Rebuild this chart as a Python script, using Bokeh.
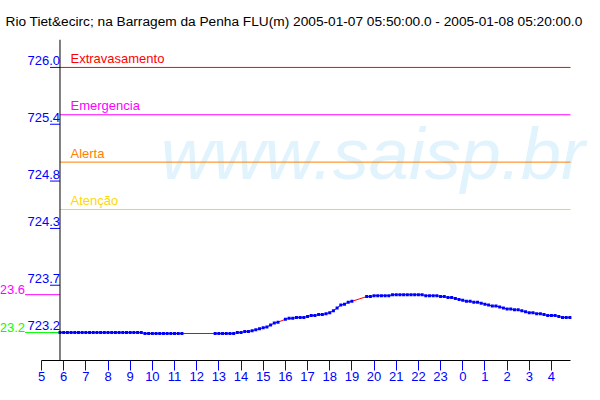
from bokeh.plotting import figure
from bokeh.models import FixedTicker, Span, Label
from bokeh.core.properties import value
from bokeh.embed import file_html
from bokeh.resources import INLINE

# ---------------- data ----------------
title_text = "Rio Tiet&ecirc; na Barragem da Penha FLU(m) 2005-01-07 05:50:00.0 - 2005-01-08 05:20:00.0"

start_hour = 5 + 50 / 60      # 2005-01-07 05:50
step_hours = 10 / 60          # one reading every 10 minutes

# water level (m); None = missing reading
nivel = [
    723.20, 723.20, 723.20, 723.20, 723.20, 723.20, 723.20, 723.20, 723.20, 723.20,
    723.20, 723.20, 723.20, 723.20, 723.20, 723.20, 723.20, 723.20, 723.20, 723.20,
    723.20, 723.20, 723.20, 723.19, 723.19, 723.19, 723.19, 723.19, 723.19, 723.19,
    723.19, 723.19, 723.19, 723.19, None, None, None, None, None, None,
    None, None, 723.19, 723.19, 723.19, 723.19, 723.19, 723.19, 723.20, 723.20,
    723.21, 723.21, 723.22, 723.23, 723.24, 723.25, 723.26, 723.28, 723.30, 723.31,
    None, 723.34, 723.35, 723.35, 723.36, 723.36, 723.36, 723.37, 723.38, 723.38,
    723.39, 723.39, 723.40, 723.41, 723.43, 723.46, 723.49, 723.50, 723.52, 723.53,
    None, None, None, 723.58, 723.58, 723.59, 723.59, 723.59, 723.59, 723.59,
    723.60, 723.60, 723.60, 723.60, 723.60, 723.60, 723.60, 723.60, 723.60, 723.59,
    723.59, 723.59, 723.59, 723.58, 723.58, 723.57, 723.57, 723.56, 723.55, 723.54,
    723.53, 723.53, 723.52, 723.52, 723.51, 723.50, 723.49, 723.48, 723.48, 723.47,
    723.46, 723.45, 723.45, 723.44, 723.44, 723.43, 723.42, 723.41, 723.41, 723.40,
    723.40, 723.39, 723.38, 723.38, 723.38, 723.37, 723.36, 723.36, 723.36,
]

threshold_names = ["Extravasamento", "Emergencia", "Alerta", "Atenção"]
threshold_values = [726.0, 725.5, 725.0, 724.5]
threshold_colors = ["#ff0000", "#ff00ff", "#ff8000", "#ffd800"]

y_tick_values = [726.0, 725.4, 724.8, 724.3, 723.7, 723.2]
y_tick_labels = ["726.0", "725.4", "724.8", "724.3", "723.7", "723.2"]

x_tick_hours = list(range(5, 29))
x_tick_labels = [str(h % 24) for h in x_tick_hours]

ref_values = [723.6, 723.2]          # max / min markers
ref_labels = ["23.6", "23.2"]
ref_colors = ["#ff00ff", "#00ff00"]

# ---------------- geometry ----------------
W, H = 600, 400
BL, BR, BT, BB = 0, 0, 38, 40
pxh = 22.17                             # pixels per hour
x0r = 3.15
x_end = 28.86                           # right end of the chart area
x1r = x0r + (W - BL - BR) / pxh
y0r, y1r = 722.905, 726.295

FONT = value("Liberation Sans")
BLUE = "#0000ff"

hours = [start_hour + i * step_hours for i in range(len(nivel))]
levels = [float("nan") if v is None else v for v in nivel]
t0 = hours[0]

p = figure(width=W, height=H, x_range=(x0r, x1r), y_range=(y0r, y1r),
           output_backend="svg", toolbar_location=None, y_axis_location=None,
           min_border_left=BL, min_border_right=BR, min_border_top=BT,
           min_border_bottom=BB, outline_line_color=None,
           background_fill_color="white", border_fill_color="white")
p.grid.visible = False

# title
p.title.text = title_text
p.title.text_font = "Liberation Sans"
p.title.text_font_size = "13.7px"
p.title.text_font_style = "normal"
p.title.text_color = "black"
p.title.align = "left"
p.title.offset = 5
p.title.standoff = 22

# watermark
p.add_layout(Label(x=10.38, y=725.085, text="www.saisp.br",
                   text_font="Liberation Sans", text_font_style="italic",
                   text_font_size="72px", text_color="#e1f3fc",
                   text_align="left", text_baseline="middle", level="underlay"))

# y axis line
p.add_layout(Span(location=t0, dimension="height", line_color="black", line_width=1))

# y ticks & labels
n = len(y_tick_values)
p.segment(x0=[t0 - 10 / pxh] * n, x1=[t0] * n, y0=y_tick_values, y1=y_tick_values,
          line_color=BLUE, line_width=1)
p.text(x=[t0] * n, y=y_tick_values, text=y_tick_labels, text_align="right",
       text_baseline="middle", y_offset=-7, text_font=FONT,
       text_font_size="13px", text_color=BLUE)

# threshold lines
m = len(threshold_values)
p.segment(x0=[t0] * m, x1=[x_end] * m, y0=threshold_values, y1=threshold_values,
          line_color=threshold_colors, line_width=1)
p.text(x=[t0] * m, y=threshold_values, text=threshold_names, x_offset=10.5,
       y_offset=-9, text_align="left", text_baseline="middle",
       text_font=FONT, text_font_size="13px", text_color=threshold_colors)

# max / min reference marks left of axis
k = len(ref_values)
p.segment(x0=[t0 - 35 / pxh] * k, x1=[t0] * k, y0=ref_values, y1=ref_values,
          line_color=ref_colors, line_width=1)
p.text(x=[t0] * k, y=ref_values, text=ref_labels, x_offset=-35, y_offset=-5,
       text_align="right", text_baseline="middle", text_font=FONT,
       text_font_size="13px", text_color=ref_colors)

# gaps (missing readings) drawn in red between valid neighbours
gx0, gx1, gy0, gy1 = [], [], [], []
i = 0
N = len(nivel)
while i < N:
    if nivel[i] is None:
        j = i
        while j < N and nivel[j] is None:
            j += 1
        if i > 0 and j < N:
            gx0.append(hours[i - 1]); gy0.append(nivel[i - 1])
            gx1.append(hours[j]); gy1.append(nivel[j])
        i = j
    else:
        i += 1
p.segment(x0=gx0, x1=gx1, y0=gy0, y1=gy1, line_color="#ff0000", line_width=1)

# data
p.line(hours, levels, line_color=BLUE, line_width=1)
p.scatter(hours, levels, marker="square", size=3, fill_color=BLUE, line_color=None)

# x axis
ax = p.xaxis[0]
ax.ticker = FixedTicker(ticks=x_tick_hours)
ax.major_label_overrides = {h: lab for h, lab in zip(x_tick_hours, x_tick_labels)}
ax.major_tick_out = 10
ax.major_tick_in = 0
ax.minor_tick_line_color = None
ax.major_tick_line_color = BLUE
ax.axis_line_color = "black"
ax.bounds = (x_tick_hours[0], x_end)
ax.major_label_text_font = "Liberation Sans"
ax.major_label_text_font_size = "13px"
ax.major_label_text_color = BLUE
ax.major_label_standoff = 1

open("out.html", "w").write(file_html(p, INLINE))
